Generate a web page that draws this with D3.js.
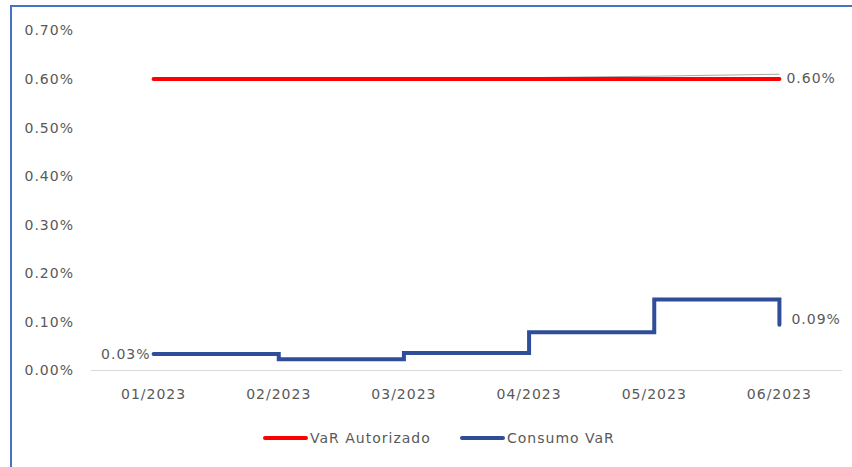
<!DOCTYPE html>
<html>
<head>
<meta charset="utf-8">
<script src="https://cdn.jsdelivr.net/npm/d3@7"></script>
<style>
  body { margin: 0; background: #fff; }
  text { font-family: "DejaVu Sans", sans-serif; font-size: 14px; fill: #595959; letter-spacing: 1px; }
</style>
</head>
<body>
<script>
const months = ['01/2023', '02/2023', '03/2023', '04/2023', '05/2023', '06/2023'];
const varAutorizado = [0.0060, 0.0060, 0.0060, 0.0060, 0.0060, 0.0060];
const tendencia = [0.00600, 0.00600, 0.00601, 0.00603, 0.00606, 0.00610];
const consumoVar = [0.00034, 0.00023, 0.00036, 0.00079, 0.00146, 0.00094];
const yTicks = [0, 0.001, 0.002, 0.003, 0.004, 0.005, 0.006, 0.007];
const legendNames = ['VaR Autorizado', 'Consumo VaR'];
const colors = { red: '#ff0000', blue: '#2f4d99', grid: '#d9d9d9', frame: '#4472c4' };

const width = 852, height = 467;

const svg = d3.select("body").append("svg")
    .attr("width", width)
    .attr("height", height);

// frame of the chart area (only left and top edges are visible)
svg.append("rect")
    .attr("x", 11).attr("y", 6)
    .attr("width", width + 20).attr("height", height + 20)
    .attr("fill", "none")
    .attr("stroke", colors.frame)
    .attr("stroke-width", 2);

const x = d3.scaleBand()
    .domain(months)
    .range([91, 842]);

const y = d3.scaleLinear()
    .domain([0, 0.007])
    .range([370.5, 30.5]);

const fmt = d3.format(".2%");
const cx = m => x(m) + x.bandwidth() / 2;

// y tick labels
svg.selectAll(".ytick")
    .data(yTicks)
    .enter().append("text")
    .attr("class", "ytick")
    .attr("x", 74)
    .attr("y", d => y(d))
    .attr("dy", "0.35em")
    .attr("text-anchor", "end")
    .text(d => fmt(d));

// baseline
svg.append("line")
    .attr("x1", x.range()[0]).attr("x2", x.range()[1])
    .attr("y1", y(0)).attr("y2", y(0))
    .attr("stroke", colors.grid)
    .attr("stroke-width", 1);

// x labels
svg.selectAll(".xtick")
    .data(months)
    .enter().append("text")
    .attr("class", "xtick")
    .attr("x", d => cx(d))
    .attr("y", 399)
    .attr("text-anchor", "middle")
    .text(d => d);

const line = d3.line()
    .x((d, i) => cx(months[i]))
    .y(d => y(d));

// thin grey trend line behind the red one
svg.append("path")
    .datum(tendencia)
    .attr("d", line)
    .attr("fill", "none")
    .attr("stroke", "#a6a6a6")
    .attr("stroke-width", 1);

svg.append("path")
    .datum(varAutorizado)
    .attr("d", line)
    .attr("fill", "none")
    .attr("stroke", colors.red)
    .attr("stroke-width", 4)
    .attr("stroke-linecap", "round");

svg.append("path")
    .datum(consumoVar)
    .attr("d", line.curve(d3.curveStepAfter))
    .attr("fill", "none")
    .attr("stroke", colors.blue)
    .attr("stroke-width", 4)
    .attr("stroke-linecap", "round");

// data labels
const last = months.length - 1;
svg.append("text")
    .attr("x", cx(months[last]) + 7)
    .attr("y", y(varAutorizado[last]))
    .attr("dy", "0.3em")
    .text(fmt(varAutorizado[last]));

svg.append("text")
    .attr("x", cx(months[0]) - 3)
    .attr("y", y(consumoVar[0]))
    .attr("dy", "0.35em")
    .attr("text-anchor", "end")
    .text(fmt(consumoVar[0]));

svg.append("text")
    .attr("x", cx(months[last]) + 12)
    .attr("y", y(consumoVar[last]) - 6)
    .attr("dy", "0.35em")
    .text(fmt(consumoVar[last]));

// legend
const legend = svg.append("g").attr("transform", "translate(0,438)");
const legendItems = [
    { name: legendNames[0], color: colors.red, x: 265 },
    { name: legendNames[1], color: colors.blue, x: 462 }
];
legend.selectAll("line")
    .data(legendItems)
    .enter().append("line")
    .attr("x1", d => d.x).attr("x2", d => d.x + 41)
    .attr("y1", 0).attr("y2", 0)
    .attr("stroke", d => d.color)
    .attr("stroke-width", 4)
    .attr("stroke-linecap", "round");
legend.selectAll("text")
    .data(legendItems)
    .enter().append("text")
    .attr("x", d => d.x + 45)
    .attr("y", 0)
    .attr("dy", "0.35em")
    .text(d => d.name);
</script>
</body>
</html>
